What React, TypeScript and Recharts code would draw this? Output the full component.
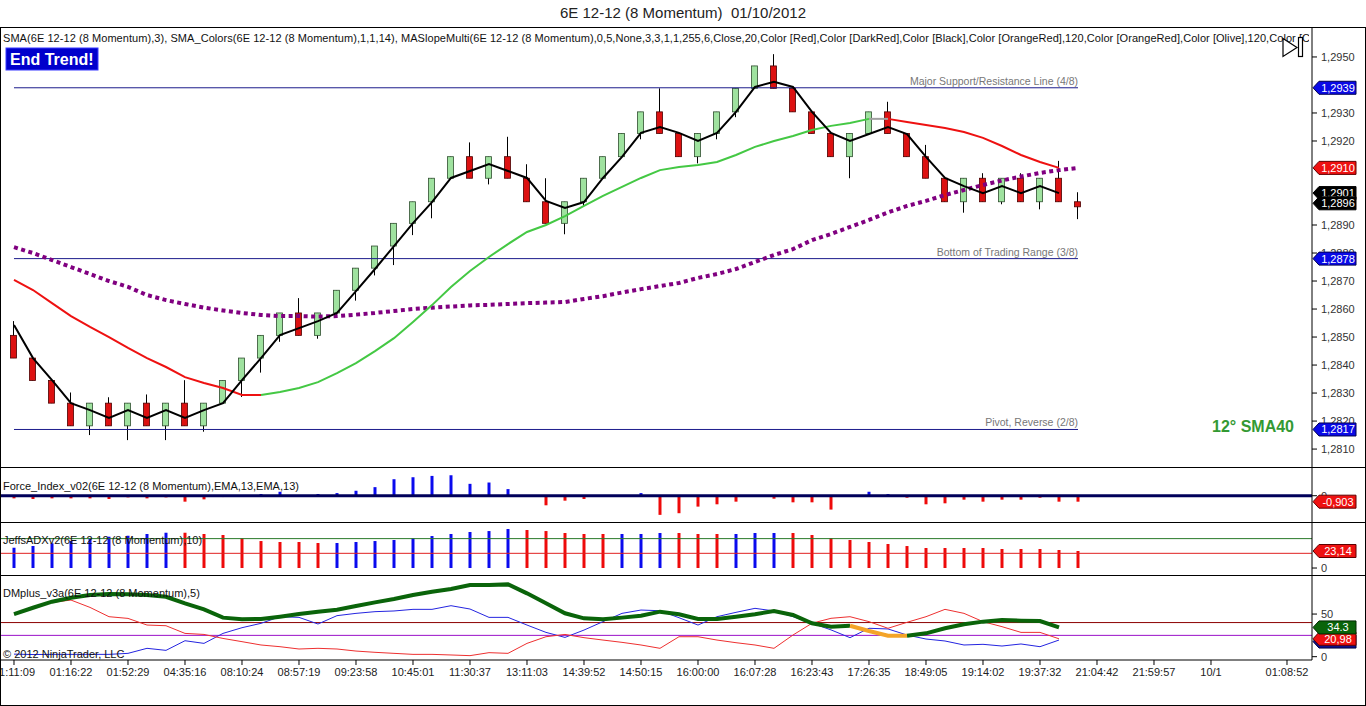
import React from 'react';
import { ComposedChart, Bar, Line, XAxis, YAxis, ReferenceLine, Cell } from 'recharts';

const FONT = 'Liberation Sans, Arial, sans-serif';

// 6E 12-12, 8 momentum bars, oldest first
const opens = [
  1.28506, 1.28425, 1.28345, 1.28264, 1.28183, 1.28264, 1.28183, 1.28264, 1.28183, 1.28264,
  1.28183, 1.28264, 1.28345, 1.28425, 1.28506, 1.28586, 1.28506, 1.28586, 1.28667, 1.28746,
  1.28825, 1.28906, 1.28983, 1.29067, 1.29144, 1.29067, 1.29144, 1.29067, 1.28983, 1.28906,
  1.28983, 1.29067, 1.29144, 1.29227, 1.29304, 1.29227, 1.29144, 1.29227, 1.29304, 1.29388,
  1.29468, 1.29388, 1.29304, 1.29227, 1.29144, 1.29227, 1.29304, 1.29227, 1.29144, 1.29067,
  1.28983, 1.29067, 1.28983, 1.29067, 1.28983, 1.29067, 1.28983,
];
const highs = [
  1.28557, 1.28425, 1.28345, 1.28302, 1.28264, 1.28285, 1.28264, 1.28295, 1.28264, 1.28346,
  1.28264, 1.28345, 1.28425, 1.28506, 1.28586, 1.28639, 1.28586, 1.28667, 1.28746, 1.28825,
  1.28906, 1.28983, 1.29067, 1.29144, 1.29195, 1.29144, 1.29215, 1.29117, 1.29067, 1.28983,
  1.29067, 1.29144, 1.29227, 1.29304, 1.29388, 1.29227, 1.29227, 1.29304, 1.29388, 1.29468,
  1.2951, 1.29388, 1.29304, 1.29227, 1.29227, 1.29304, 1.2934, 1.29227, 1.29186, 1.29067,
  1.29067, 1.29085, 1.29067, 1.29085, 1.29067, 1.29129, 1.29017,
];
const lows = [
  1.28425, 1.28345, 1.28264, 1.28183, 1.2815, 1.28183, 1.28132, 1.28183, 1.28132, 1.28183,
  1.28162, 1.28264, 1.28286, 1.28373, 1.28483, 1.28506, 1.28494, 1.28575, 1.2863, 1.2872,
  1.28757, 1.28864, 1.28924, 1.29067, 1.29067, 1.29045, 1.29067, 1.28983, 1.28906, 1.28867,
  1.28968, 1.29067, 1.29144, 1.29206, 1.29227, 1.29144, 1.2912, 1.29206, 1.29285, 1.29388,
  1.29388, 1.29304, 1.29227, 1.29144, 1.29067, 1.29227, 1.29227, 1.29144, 1.29067, 1.28983,
  1.28944, 1.28983, 1.28974, 1.28983, 1.28956, 1.28983, 1.28921,
];
const closes = [
  1.28425, 1.28345, 1.28264, 1.28183, 1.28264, 1.28183, 1.28264, 1.28183, 1.28264, 1.28183,
  1.28264, 1.28345, 1.28425, 1.28506, 1.28586, 1.28506, 1.28586, 1.28667, 1.28746, 1.28825,
  1.28906, 1.28983, 1.29067, 1.29144, 1.29067, 1.29144, 1.29067, 1.28983, 1.28906, 1.28983,
  1.29067, 1.29144, 1.29227, 1.29304, 1.29227, 1.29144, 1.29227, 1.29304, 1.29388, 1.29468,
  1.29388, 1.29304, 1.29227, 1.29144, 1.29227, 1.29304, 1.29227, 1.29144, 1.29067, 1.28983,
  1.29067, 1.28983, 1.29067, 1.28983, 1.29067, 1.28983, 1.28965,
];

// SMA(3), black
const sma3 = [
  1.28543, 1.28425, 1.28346, 1.28264, 1.28239, 1.28211, 1.28239, 1.28211, 1.28239, 1.28211,
  1.28239, 1.28264, 1.28346, 1.28425, 1.28507, 1.28532, 1.28557, 1.28586, 1.28664, 1.28743,
  1.28825, 1.28907, 1.28982, 1.29068, 1.29093, 1.29118, 1.29093, 1.29068, 1.28986, 1.28961,
  1.28982, 1.29068, 1.29143, 1.29229, 1.2925, 1.29229, 1.292, 1.29229, 1.29304, 1.29393,
  1.29411, 1.29393, 1.29304, 1.29229, 1.292, 1.29225, 1.2925, 1.29225, 1.29143, 1.29068,
  1.29039, 1.29014, 1.29039, 1.29014, 1.29039, 1.29014, null,
];

// SMA_Colors(14): red falling, green rising, gray flat
const sma14 = [
  1.28704, 1.28668, 1.28621, 1.28575, 1.28536, 1.285, 1.28461, 1.28425, 1.28393, 1.28357,
  1.28336, 1.28318, 1.28293, 1.28293, 1.28304, 1.28318, 1.28339, 1.28371, 1.28407, 1.2845,
  1.28496, 1.28554, 1.28614, 1.28679, 1.28736, 1.28786, 1.28832, 1.28875, 1.289, 1.28932,
  1.28968, 1.29004, 1.29036, 1.29068, 1.29096, 1.29107, 1.29114, 1.29125, 1.2915, 1.29179,
  1.292, 1.29218, 1.29239, 1.29254, 1.29264, 1.29279, 1.29279, 1.29268, 1.29257, 1.29246,
  1.29232, 1.29211, 1.29182, 1.2915, 1.29125, 1.29104, null,
];
const sma14Runs: [string, number][] = [['red', 14], ['green', 32], ['gray', 1], ['red', 9], ['none', 1]];

// MASlopeMulti, purple dots
const maSlope = [
  1.28821, 1.288, 1.28775, 1.2875, 1.28725, 1.287, 1.28679, 1.2865, 1.28632, 1.28618,
  1.28605, 1.28595, 1.28586, 1.28579, 1.28575, 1.28575, 1.28573, 1.28575, 1.2858, 1.28586,
  1.28593, 1.286, 1.28605, 1.28609, 1.28613, 1.28615, 1.28618, 1.28621, 1.28623, 1.28625,
  1.28636, 1.28646, 1.28659, 1.28671, 1.28682, 1.28693, 1.28711, 1.28725, 1.28743, 1.28768,
  1.28793, 1.28814, 1.28846, 1.28868, 1.28893, 1.28918, 1.28945, 1.28968, 1.28986, 1.29007,
  1.29025, 1.29043, 1.29059, 1.29073, 1.29086, 1.29096, 1.29104,
];

const levels = [1.2939, 1.2878, 1.2817];
const levelNames = ['Major Support/Resistance Line (4/8)', 'Bottom of Trading Range (3/8)', 'Pivot, Reverse (2/8)'];
const levelTags = ['1,2939', '1,2878', '1,2817'];
// 1,2940 / 1,2910 / 1,2900 sit fully under the value tags
const priceTicks = [1.281, 1.282, 1.283, 1.284, 1.285, 1.286, 1.287, 1.288, 1.289, 1.292, 1.293, 1.295];

const forceIndex = [
  -0.4, -0.5, -0.4, -0.4, -0.4, -0.5, -0.25, -0.4, -0.25, -0.9,
  -0.55, -0.2, 0, 0.26, 0.6, 0.05, 0.26, 0.4, 0.75, 1.3,
  2.5, 2.8, 3.0, 3.1, 1.8, 2.0, 1.0, -0.15, -1.45, -0.75,
  -0.5, 0, 0, 0.4, -2.9, -2.65, -1.65, -1.3, -0.9, 0,
  -0.45, -1.0, -1.0, -2.1, 0, 0.6, 0.25, -0.3, -1.3, -1.15,
  -0.6, -0.9, -0.6, -0.6, -0.3, -0.9, -0.903,
];

const adx = [
  27.6, 29.9, 33.6, 36.7, 39.5, 42.6, 43.9, 46.3, 48, 48,
  46.3, 44.9, 40.4, 36.7, 35.4, 35.4, 34, 34, 35.4, 36.7,
  38.1, 40.4, 43.5, 46.3, 49, 50.3, 53.1, 51.7, 50.3, 47.6,
  46.3, 46.3, 46.3, 46.3, 47.6, 47.6, 46.3, 46.3, 46.3, 47.6,
  47.6, 47.6, 44.9, 40.8, 38.1, 35.4, 32.7, 29.9, 27.2, 27.2,
  27.2, 27.2, 25.9, 25.9, 25.9, 24.5, 23.14,
];
const adxRuns: [string, number][] = [['blue', 9], ['red', 8], ['blue', 10], ['red', 5], ['blue', 3], ['red', 3], ['blue', 3], ['red', 16]];

const dmAdx = [
  50, 57.4, 64.5, 69.2, 72.3, 73.5, 73.1, 72.3, 70.3, 62.6,
  55.5, 45.8, 43.8, 44.2, 46.9, 50, 52.8, 55.1, 59.4, 63.7,
  67.6, 72.3, 76.2, 79.4, 84, 84, 84.8, 74.3, 62.6, 50.9,
  45, 43.8, 45.8, 48, 52.8, 49.7, 44.2, 44.2, 46.9, 49.7,
  53.6, 48.9, 39.2, 35.2, 36.3, 30.1, 24.6, 24.6, 27.4, 33.3,
  38, 41.1, 43, 42.2, 41.8, 34.3, null,
];
const dmAdxRuns: [string, number][] = [['green', 45], ['orange', 3], ['green', 8], ['none', 1]];
const diMinus = [
  50, 58.6, 63.7, 66.4, 57.8, 46.9, 44.9, 37.1, 36.3, 27.3,
  26.1, 21.4, 17.6, 13.7, 11.7, 9, 9.8, 9, 6.6, 5.1,
  3.9, 2.7, 2.7, 2, 1.2, 4.7, 3.9, 15.6, 23.4, 26.1,
  22.3, 19.5, 16.8, 13.7, 9.8, 23.4, 23.4, 19.5, 16.4, 13.7,
  9.8, 25.4, 39.2, 45, 46.9, 41.1, 33.3, 40.3, 46.9, 55.5,
  50.8, 41.1, 35.2, 28.5, 28.5, 20.98, null,
];
const diPlus = [
  3, 2.5, 2.7, 2.7, 2.7, 2.7, 3.9, 9.8, 7.4, 18.7,
  15.6, 27.3, 34, 39.1, 46.9, 46.1, 38.3, 48.1, 50.8, 52.8,
  53.6, 55.5, 55.5, 59.8, 55.9, 46.1, 46.1, 37.1, 28.5, 22.6,
  31.2, 41.1, 50.8, 54.7, 53.9, 45.7, 37.1, 46.9, 52, 56.7,
  53.6, 46.9, 39.2, 31.4, 22.3, 33.3, 32.5, 25.4, 20.7, 18.4,
  13.7, 14.5, 12.5, 14.9, 11.7, 19.5, null,
];

const xTickBars = [0, 3, 6, 9, 12, 15, 18, 21, 24, 27, 30, 33, 36, 39, 42, 45, 48, 51, 54, 57, 60, 63, 67];
const xTickLabels = [
  '01:11:09', '01:16:22', '01:52:29', '04:35:16', '08:10:24', '08:57:19', '09:23:58', '10:45:01',
  '11:30:37', '13:11:03', '14:39:52', '14:50:15', '16:00:00', '16:07:28', '16:23:43', '17:26:35',
  '18:49:05', '19:14:02', '19:37:32', '21:04:42', '21:59:57', '10/1', '01:08:52',
];

const HEADER =
  'SMA(6E 12-12 (8 Momentum),3), SMA_Colors(6E 12-12 (8 Momentum),1,1,14), MASlopeMulti(6E 12-12 (8 Momentum),0,5,None,3,3,1,1,255,6,Close,20,Color [Red],Color [DarkRed],Color [Black],Color [OrangeRed],120,Color [OrangeRed],Color [Olive],120,Color [C';

const expand = (runs: [string, number][]) => runs.flatMap(([k, n]) => Array(n).fill(k) as string[]);
const sma14State = expand(sma14Runs);
const dmState = expand(dmAdxRuns);
const adxState = expand(adxRuns);

// a point belongs to a coloured piece if the segment into it or out of it has that colour
const piece = (vals: (number | null)[], state: string[], key: string) =>
  vals.map((v, i) => (v != null && (state[i] === key || state[i + 1] === key) ? v : null));

const maRed = piece(sma14, sma14State, 'red');
const maGreen = piece(sma14, sma14State, 'green');
const maGray = piece(sma14, sma14State, 'gray');
const dmGreen = piece(dmAdx, dmState, 'green');
const dmOrange = piece(dmAdx, dmState, 'orange');

const rows = opens.map((o, i) => ({
  i,
  o,
  h: highs[i],
  l: lows[i],
  c: closes[i],
  range: [lows[i], highs[i]],
  sma3: sma3[i],
  maRed: maRed[i],
  maGreen: maGreen[i],
  maGray: maGray[i],
  slope: maSlope[i],
  force: forceIndex[i],
  adx: adx[i],
  dmGreen: dmGreen[i],
  dmOrange: dmOrange[i],
  diMinus: diMinus[i],
  diPlus: diPlus[i],
}));
const lastBar = rows.length - 1;

const W = 1366;
const AXIS_W = 54;
const X_DOMAIN: [number, number] = [-0.684, 68.316];
const MARGIN = { top: 0, right: 0, bottom: 0, left: 1 };
const tickStyle = { fontSize: 11, fill: '#333', fontFamily: FONT };

const PRICE_DOMAIN: [number, number] = [1.28036, 1.29607];
const FORCE_DOMAIN: [number, number] = [-3.98, 4.35];
const ADX_DOMAIN: [number, number] = [-9.5, 62.6];
const DM_DOMAIN: [number, number] = [-3.9, 95.8];

const Candle = (p: any) => {
  const { x, y, width, height, payload } = p;
  if (!payload || height == null) return null;
  const top = Math.min(y, y + height);
  const h = Math.abs(height);
  const cx = Math.round(x + width / 2) + 0.5;
  const k = h / (payload.h - payload.l);
  const bTop = top + (payload.h - Math.max(payload.o, payload.c)) * k;
  const bBot = top + (payload.h - Math.min(payload.o, payload.c)) * k;
  const up = payload.c > payload.o;
  return (
    <g>
      <line x1={cx} x2={cx} y1={top} y2={top + h} stroke="#000" strokeWidth={1} />
      <rect
        x={cx - 3}
        y={bTop}
        width={6}
        height={Math.max(bBot - bTop, 1)}
        fill={up ? '#9fe29f' : '#dd1111'}
        stroke={up ? '#2f4f2f' : '#4a0000'}
        strokeWidth={0.8}
      />
    </g>
  );
};

const priceTag = (text: string, fill: string, edge: string, dy = 0) => (p: any) => {
  const vb = p.viewBox || {};
  const x0 = vb.x + vb.width + 1;
  const y = vb.y + dy;
  return (
    <g>
      <polygon
        points={`${x0},${y} ${x0 + 6},${y - 6.5} ${x0 + 43},${y - 6.5} ${x0 + 43},${y + 6.5} ${x0 + 6},${y + 6.5}`}
        fill={fill}
        stroke={edge}
        strokeWidth={1}
      />
      {text ? (
        <text x={x0 + 25} y={y + 4} textAnchor="middle" fill="#fff" fontSize={11} fontFamily={FONT}>
          {text}
        </text>
      ) : null}
    </g>
  );
};

const lineCaption = (text: string) => (p: any) => {
  const vb = p.viewBox || {};
  return (
    <text x={vb.x + vb.width} y={vb.y - 3} textAnchor="end" fill="#777" fontSize={10.5} fontFamily={FONT}>
      {text}
    </text>
  );
};

const hiddenX = <XAxis type="number" dataKey="i" domain={X_DOMAIN} allowDataOverflow hide />;

const rightAxis = (domain: [number, number], ticks: number[], fmt?: (v: number) => string) => (
  <YAxis
    orientation="right"
    width={AXIS_W}
    type="number"
    domain={domain}
    allowDataOverflow
    ticks={ticks}
    interval={0}
    tickFormatter={fmt}
    tick={tickStyle}
    tickSize={5}
    tickMargin={4}
    axisLine={{ stroke: '#000' }}
    tickLine={{ stroke: '#000' }}
  />
);

// transparent chart on top of a panel that only carries the value tags, so they cover the axis labels
type Tag = { y: number; text: string; fill: string; edge: string; dy?: number };
const TagLayer = ({ height, domain, bottom = 0, tags }: { height: number; domain: [number, number]; bottom?: number; tags: Tag[] }) => (
  <div style={{ position: 'absolute', left: 0, top: 0 }}>
    <ComposedChart width={W} height={height} data={rows} margin={{ top: 0, right: AXIS_W, bottom, left: 1 }}>
      {hiddenX}
      <YAxis type="number" domain={domain} allowDataOverflow hide />
      {tags.map((t, k) => (
        <ReferenceLine key={k} y={t.y} stroke="none" ifOverflow="visible" label={priceTag(t.text, t.fill, t.edge, t.dy)} />
      ))}
    </ComposedChart>
  </div>
);

const BLUE_TAG = { fill: '#0a0ae6', edge: '#000050' };
const RED_TAG = { fill: '#ee1111', edge: '#600000' };
const BLACK_TAG = { fill: '#000', edge: '#000' };

const PriceChart = () => (
  <>
    <ComposedChart width={W} height={440} data={rows} margin={MARGIN}>
      {hiddenX}
      {rightAxis(PRICE_DOMAIN, priceTicks, (v: number) => v.toFixed(4).replace('.', ','))}
      {levels.map((lv, k) => (
        <ReferenceLine
          key={'seg' + k}
          segment={[{ x: 0, y: lv }, { x: lastBar, y: lv }]}
          stroke="#1c1c8c"
          strokeWidth={1}
          label={lineCaption(levelNames[k])}
        />
      ))}
      <Bar dataKey="range" barSize={6} shape={Candle} isAnimationActive={false} />
      <Line dataKey="slope" stroke="#800080" strokeWidth={4} strokeDasharray="4 3.5" dot={false} isAnimationActive={false} />
      <Line dataKey="maRed" stroke="#ee1111" strokeWidth={2} dot={false} isAnimationActive={false} />
      <Line dataKey="maGreen" stroke="#44c844" strokeWidth={2} dot={false} isAnimationActive={false} />
      <Line dataKey="maGray" stroke="#a0a0a0" strokeWidth={2} dot={false} isAnimationActive={false} />
      <Line dataKey="sma3" stroke="#000" strokeWidth={2} dot={false} isAnimationActive={false} />
    </ComposedChart>
    <TagLayer
      height={440}
      domain={PRICE_DOMAIN}
      tags={[
        ...levels.map((lv, k) => ({ y: lv, text: levelTags[k], ...BLUE_TAG })),
        { y: sma14[lastBar - 1] as number, text: '1,2910', ...RED_TAG },
        { y: sma3[lastBar - 1] as number, text: '1,2901', ...BLACK_TAG },
        { y: closes[lastBar], text: '1,2896', ...BLACK_TAG, dy: -3.5 },
      ]}
    />
  </>
);

const ForceChart = () => (
  <>
    <ComposedChart width={W} height={55} data={rows} margin={MARGIN}>
      {hiddenX}
      {rightAxis(FORCE_DOMAIN, [0])}
      <Bar dataKey="force" barSize={3} isAnimationActive={false}>
        {rows.map((r) => (
          <Cell key={r.i} fill={r.force >= 0 ? '#0a0aee' : '#ee0a0a'} />
        ))}
      </Bar>
      <ReferenceLine y={0} stroke="#00005a" strokeWidth={3} />
    </ComposedChart>
    <TagLayer height={55} domain={FORCE_DOMAIN} tags={[{ y: forceIndex[lastBar], text: '-0,903', ...RED_TAG }]} />
  </>
);

const AdxChart = () => (
  <>
    <ComposedChart width={W} height={53} data={rows} margin={MARGIN}>
      {hiddenX}
      {rightAxis(ADX_DOMAIN, [0])}
      <ReferenceLine y={40} stroke="#2a7a2a" strokeWidth={1} />
      <ReferenceLine y={20} stroke="#e02020" strokeWidth={1} />
      <Bar dataKey="adx" barSize={3} isAnimationActive={false}>
        {rows.map((r) => (
          <Cell key={r.i} fill={adxState[r.i] === 'blue' ? '#0a0aee' : '#ee0a0a'} />
        ))}
      </Bar>
    </ComposedChart>
    <TagLayer height={53} domain={ADX_DOMAIN} tags={[{ y: adx[lastBar], text: '23,14', ...RED_TAG }]} />
  </>
);

const DmChart = () => (
  <>
    <ComposedChart width={W} height={131} data={rows} margin={MARGIN}>
      <XAxis
        type="number"
        dataKey="i"
        domain={X_DOMAIN}
        allowDataOverflow
        ticks={xTickBars}
        interval={0}
        tickFormatter={(v: number) => xTickLabels[xTickBars.indexOf(v)] ?? ''}
        height={46}
        tickSize={5}
        tickMargin={3}
        tick={{ fontSize: 11, fill: '#222', fontFamily: FONT }}
        axisLine={{ stroke: '#000' }}
        tickLine={{ stroke: '#000' }}
      />
      {rightAxis(DM_DOMAIN, [0, 50])}
      <ReferenceLine y={40} stroke="#8b0000" strokeWidth={1} />
      <ReferenceLine y={25} stroke="#9a10c8" strokeWidth={1} />
      <Line dataKey="diPlus" stroke="#2424e0" strokeWidth={1} dot={false} isAnimationActive={false} />
      <Line dataKey="diMinus" stroke="#ee3030" strokeWidth={1} dot={false} isAnimationActive={false} />
      <Line dataKey="dmGreen" stroke="#0a640a" strokeWidth={4} dot={false} isAnimationActive={false} />
      <Line dataKey="dmOrange" stroke="#f4a428" strokeWidth={4} dot={false} isAnimationActive={false} />
    </ComposedChart>
    <TagLayer
      height={131}
      bottom={46}
      domain={DM_DOMAIN}
      tags={[
        { y: diPlus[lastBar - 1] as number, text: '', fill: '#10108a', edge: '#000040', dy: 1.5 },
        { y: diMinus[lastBar - 1] as number, text: '20,98', ...RED_TAG },
        { y: dmAdx[lastBar - 1] as number, text: '34.3', fill: '#0a640a', edge: '#002a00' },
      ]}
    />
  </>
);

const Overlay = () => (
  <svg width={W} height={706} style={{ position: 'absolute', left: 0, top: 0, pointerEvents: 'none' }}>
    <defs>
      <clipPath id="hdrClip">
        <rect x={0} y={28} width={1309} height={20} />
      </clipPath>
    </defs>
    <text x={683} y={18} textAnchor="middle" fontSize={15} fill="#222" fontFamily={FONT} style={{ whiteSpace: 'pre' }}>
      {'6E 12-12 (8 Momentum)  01/10/2012'}
    </text>
    <text x={3} y={42} fontSize={11} fill="#111" fontFamily={FONT} textLength={1307} lengthAdjust="spacing" clipPath="url(#hdrClip)">
      {HEADER}
    </text>
    <g stroke="#000" strokeWidth={1}>
      <line x1={0} x2={W} y1={27.5} y2={27.5} />
      <line x1={0} x2={W} y1={467.5} y2={467.5} />
      <line x1={0} x2={W} y1={522.5} y2={522.5} />
      <line x1={0} x2={W} y1={575.5} y2={575.5} />
      <line x1={0} x2={W} y1={705.5} y2={705.5} />
      <line x1={0.5} x2={0.5} y1={27} y2={706} />
      <line x1={1365.5} x2={1365.5} y1={27} y2={706} />
    </g>
    <rect x={6} y={48} width={92} height={22} fill="#0000cc" stroke="#3a3aff" />
    <text x={10} y={65} fontSize={16} fontWeight="bold" fill="#fff" fontFamily={FONT}>
      End Trend!
    </text>
    <text x={1212} y={432} fontSize={16} fontWeight="bold" fill="#339933" fontFamily={FONT}>
      12° SMA40
    </text>
    <polygon points="1283,38.5 1297,47.5 1283,56.5" fill="#fff" stroke="#000" strokeWidth={1.2} />
    <rect x={1298.5} y={37.5} width={4} height={19} fill="#fff" stroke="#000" strokeWidth={1.2} />
    <text x={3} y={490} fontSize={11} fill="#111" fontFamily={FONT}>
      Force_Index_v02(6E 12-12 (8 Momentum),EMA,13,EMA,13)
    </text>
    <text x={3} y={544} fontSize={11} fill="#111" fontFamily={FONT}>
      JeffsADXv2(6E 12-12 (8 Momentum),10)
    </text>
    <text x={3} y={597} fontSize={11} fill="#111" fontFamily={FONT}>
      DMplus_v3a(6E 12-12 (8 Momentum),5)
    </text>
    <text x={3} y={658} fontSize={11} fill="#111" fontFamily={FONT}>
      © 2012 NinjaTrader, LLC
    </text>
  </svg>
);

const App = () => (
  <div style={{ position: 'absolute', left: 0, top: 0, width: W, height: 706, background: '#fff', fontFamily: FONT }}>
    <div style={{ position: 'absolute', left: 0, top: 27 }}>
      <PriceChart />
    </div>
    <div style={{ position: 'absolute', left: 0, top: 467 }}>
      <ForceChart />
    </div>
    <div style={{ position: 'absolute', left: 0, top: 522 }}>
      <AdxChart />
    </div>
    <div style={{ position: 'absolute', left: 0, top: 575 }}>
      <DmChart />
    </div>
    <Overlay />
  </div>
);

export default App;
